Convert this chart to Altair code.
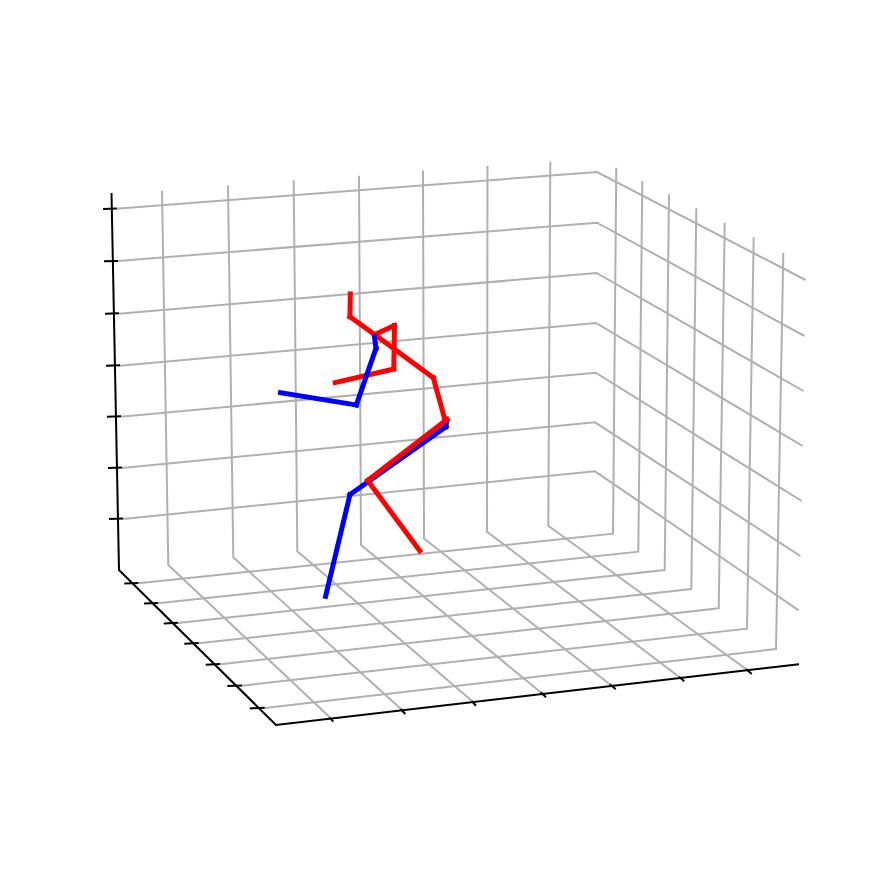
import altair as alt
import pandas as pd

# (projected 3D axes: screen coordinates)
height_grid_x = [[116, 597, 805.5], [118, 597, 804.5], [119, 596.5, 803.5], [120, 596, 802.7],
                 [121, 595.7, 801.7], [122, 595, 800.3], [123, 595, 798.7]]
height_grid_y = [[208.7, 172, 280], [261, 222.7, 336], [313.7, 273, 391], [365.7, 323, 446],
                 [416.7, 372.7, 501], [468, 422.3, 556], [519, 471.3, 610.3]]

width_grid_x = [[162, 168.3, 329.5], [228, 233.3, 401], [293.7, 297.3, 472], [359, 361, 541],
                [423, 424, 610], [487.5, 487, 679], [550.3, 548.3, 746]]
width_grid_y = [[190.7, 565, 717], [185.3, 557.3, 709], [180.3, 551.3, 701], [175.7, 545, 692.5],
                [170.5, 538.5, 684.5], [166, 531.7, 676.7], [161.7, 525.7, 669]]

depth_grid_x = [[616.3, 613, 138.3], [642.3, 638.3, 158], [669, 664.7, 178], [696.3, 691.3, 198.7],
                [724.7, 718.7, 220], [753.7, 747, 242], [783.3, 776, 264.7]]
depth_grid_y = [[167.7, 533.7, 583.3], [181, 551.7, 603.3], [194.3, 570, 623], [208.3, 589, 643.3],
                [222.7, 608.3, 664.3], [237.3, 628.7, 685.7], [252.7, 649, 708]]

spine_x = [111.5, 119, 276, 799]
spine_y = [193, 570, 725, 664.3]

tick_x = [[103, 116.7], [104, 118], [105, 119], [106, 120], [107, 121], [108, 122], [109, 123],
          [124.3, 138.3], [144, 158], [163.7, 178], [184.3, 198.7], [205.7, 220], [227.3, 242], [249.7, 264.7],
          [329.3, 333.3], [400.7, 405.3], [471.7, 476], [540.7, 546], [610, 615.7], [679, 684.3], [746, 751.7]]
tick_y = [[209, 208.5], [261.3, 261], [313.7, 313.3], [365.7, 365.3], [416.7, 416.3], [468, 467.6], [519, 518.6],
          [583.6, 583], [603.6, 603], [623.4, 622.8], [643.7, 643.1], [664.7, 664.1], [686.1, 685.4], [708.4, 707.7],
          [717.3, 721.7], [709, 714], [701, 705.7], [692.3, 697.3], [684.3, 689.3], [676.7, 681.3], [669, 674]]

# Skeleton bones, in drawing order
red_back_x = [[376, 394.5], [394.5, 393.8], [393.8, 335.3], [350.3, 350], [350, 376], [376, 433.3]]
red_back_y = [[334, 325.5], [325.5, 369], [369, 382.6], [294, 316.7], [316.7, 335.5], [335.5, 377.7]]

blue_x = [[280.5, 356.3], [356.3, 376], [376, 374.5], [446.5, 446], [446, 350], [350, 325.6]]
blue_y = [[392.7, 405], [405, 348.3], [348.3, 337], [422, 426.7], [426.7, 494.5], [494.5, 596.3]]

red_front_x = [[433.3, 445], [445, 447], [447, 367.7], [367.7, 419.8]]
red_front_y = [[377.7, 420], [420, 419.5], [419.5, 480.5], [480.5, 550.8]]


def paths(name, xs, ys):
    rows = []
    for i, (px, py) in enumerate(zip(xs, ys)):
        for j, (x, y) in enumerate(zip(px, py)):
            rows.append({"path": f"{name}{i}", "step": j, "x": x, "y": y})
    return pd.DataFrame(rows)


X = alt.X("x:Q", axis=None, scale=alt.Scale(domain=[8, 838], nice=False, zero=False))
Y = alt.Y("y:Q", axis=None, scale=alt.Scale(domain=[768, 8], nice=False, zero=False))


def layer(df, color, width, cap="butt"):
    return alt.Chart(df).mark_line(
        color=color, strokeWidth=width, strokeCap=cap, strokeJoin="miter", clip=False
    ).encode(x=X, y=Y, detail="path:N", order="step:Q")


grid = pd.concat([
    paths("h", height_grid_x, height_grid_y),
    paths("w", width_grid_x, width_grid_y),
    paths("d", depth_grid_x, depth_grid_y),
])

chart = alt.layer(
    layer(grid, "#b0b0b0", 2),
    layer(paths("s", [spine_x], [spine_y]), "#000000", 2),
    layer(paths("t", tick_x, tick_y), "#000000", 2),
    layer(paths("rb", red_back_x, red_back_y), "#ff0000", 5, "square"),
    layer(paths("b", blue_x, blue_y), "#0000ff", 5, "square"),
    layer(paths("rf", red_front_x, red_front_y), "#ff0000", 5, "square"),
).properties(width=830, height=760, padding=0).configure_view(stroke=None)

chart.save("out.html", embed_options={"renderer": "svg", "actions": False})
